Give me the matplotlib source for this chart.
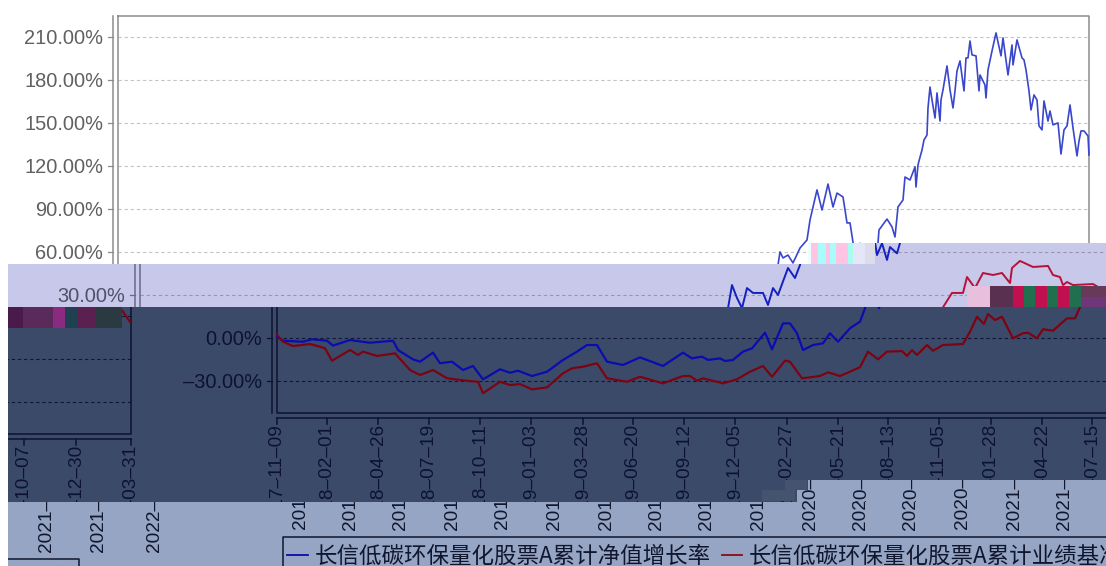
"""
Fund return chart, with the broken image bands of the original screenshot
"""
import matplotlib
matplotlib.use('Agg')
import matplotlib.pyplot as plt
from matplotlib.patches import Rectangle

blue_x = [0, 6, 26, 35, 50, 56, 73, 93, 116, 121, 136, 143, 156, 163, 175, 186, 196, 206, 223, 233, 241, 255, 270,
          286, 300, 310, 320, 330, 346, 363, 386, 406, 415, 425, 431, 443, 448, 456, 466, 475, 488, 495, 506, 513,
          520, 526, 536, 546, 553, 561, 573, 583, 588, 592, 597, 602, 607, 613, 623, 628, 633, 638, 648, 655, 660,
          662, 665, 670, 675, 682, 689, 692, 699, 704, 710, 715, 719, 725, 729, 732, 735, 737, 742, 747, 750, 757,
          760, 761, 769, 774, 777, 780, 785, 787, 792, 797, 798, 800,
          801, 804, 806, 809, 810, 812, 814, 817, 819, 822, 823, 825, 829, 832, 835, 837, 839, 842, 846, 848,
          850, 852, 854, 858, 861, 862, 867, 868, 870, 874, 878, 883, 885, 890, 894, 895, 899, 904, 906, 908,
          911, 913, 916, 919, 921, 924, 926, 930, 932, 935, 940, 943, 946, 949, 952, 955, 959, 961, 963, 966, 970, 971]
blue_y = [1, -1.9, -2.6, -0.9, -1.9, -5.3, -1.4, -3.3, -1.9, -8.4, -14.9, -16.5, -10.2, -17.6, -16.5, -22.3, -19.5,
          -28.8, -21.8, -24.2, -22.8, -26.5, -23.5, -15.3, -9.5, -4.9, -4.9, -16.5, -18.8, -13.5, -19.5, -10.2, -14.2,
          -13, -15.3, -14.2, -16, -15.3, -9.5, -7.2, 3.7, -7.9, 10.2, 10.2, 3.3, -8.4, -4.9, -3.7, 3.3, -2.6, 6.8,
          11.4, 20.7, 36.9, 27.9, 20.8, 34.8, 31.4, 31.4, 23, 34.8, 30, 48.8, 41.8, 50.9, 60, 55.8, 57.8, 52.3, 62.7,
          68.3, 82.2, 103.2, 89.2, 107.3, 91.3, 101, 98.3, 80.2, 80.2, 66.9, 57.8, 66, 54.4, 63.4, 59, 66.2, 75.3,
          82.9, 77.4, 70.4, 91.3, 96.2, 112.2, 110.1, 119.2, 105.2, 120.6,
          123.4, 131, 138, 141.5, 160.3, 174.9, 165.9, 153.3, 170.8, 151.2, 165.9, 172.9, 189.6, 172.9, 160.3, 172.2,
          186.1, 193.1, 172.2, 195.2, 195.2, 207, 197.3, 196.6, 172.2, 183.3, 176.3, 167.3, 186.8, 200, 212.6, 196.6,
          209.1, 183.3, 204.2, 190.3, 207.7, 195.2, 193.8, 186.8, 172.2, 158.9, 169.4, 165.9, 147.8, 145, 165.2, 151.2,
          158.2, 148.5, 149.9, 128.2, 145, 147.8, 162.4, 146.4, 126.9, 137.3, 144.3, 144.3, 140.8, 127.5]
red_x = [0, 6, 16, 33, 43, 48, 55, 73, 81, 86, 100, 118, 133, 143, 156, 170, 193, 201, 206, 223, 233, 243, 255, 270,
         286, 295, 306, 320, 330, 350, 363, 386, 406, 413, 420, 426, 446, 460, 473, 486, 495, 508, 513, 525, 543, 551,
         563, 583, 591, 601, 610, 625, 630, 635, 640, 650, 656, 666, 686, 693, 700, 707, 711, 718, 725, 736, 746, 751,
         760, 766, 776, 790, 798, 803, 812, 823, 827, 835, 843, 853, 862, 870, 872, 880, 893, 908, 913, 920, 923, 927,
         933, 953, 962, 970]
red_y = [2.1, -2.6, -5.6, -4.2, -6.1, -7.2, -15.8, -8.4, -11.8, -9.5, -12.5, -10.7, -22.3, -25.8, -22.3, -28.1, -30,
         -30.5, -38.5, -30.5, -32.8, -32.1, -35.8, -34.4, -24.6, -21.1, -20, -17.6, -28.1, -30.5, -27, -31.6, -26.5,
         -26.5, -29.8, -28.1, -31.6, -28.8, -23.5, -19.5, -27, -15.8, -16.5, -28.1, -26.5, -23.9, -26.5, -20.4, -9.5,
         -14.9, -9.5, -9.1, -12.5, -8.4, -11.8, -4.9, -8.9, -4.9, -4.2, 4.4, 14.8, 9.8, 16.7, 12.5, 14.8, -0.2, 3.3,
         3.7, -0.2, 6.1, 5.1, 13.7, 13.7, 21.4, 31.4, 31.4, 42.5, 34.8, 45.3, 43.9, 45.3, 38.3, 48.8, 53.7, 49.5, 50.2,
         43.9, 42.5, 36.9, 39, 36.9, 37.6, 34, 25.8]
tick_x = [0, 50, 101, 152, 203, 254, 306, 356, 407, 458, 510, 561, 611, 662, 714, 765, 815, 864, 916, 971]
tick_labels = ['2017-11-09', '2018-02-01', '2018-04-26', '2018-07-19', '2018-10-11', '2019-01-03', '2019-03-28',
               '2019-06-20', '2019-09-12', '2019-12-05', '2020-02-27', '2020-05-21', '2020-08-13', '2020-11-05',
               '2021-01-28', '2021-04-22', '2021-07-15', '2021-10-07', '2021-12-30', '2022-03-31']
y_ticks = [-30, 0, 30, 60, 90, 120, 150, 180, 210]
y_labels = ['-30.00%', '0.00%', '30.00%', '60.00%', '90.00%', '120.00%', '150.00%', '180.00%', '210.00%']
legend_labels = ['长信低碳环保量化股票A累计净值增长率', '长信低碳环保量化股票A累计业绩基准增长率']

W, H = 1106, 566
X0 = 277  # pixel of the first session, in the dark band
FONT = ['Liberation Sans', 'DejaVu Sans']
CJK = ['Noto Sans CJK SC', 'Liberation Sans']

white = dict(bg='#ffffff', text='#606060', spine='#8c8c8c', grid='#c4c4c4', blue='#3a46cc', red='#c02030', lw=1.2)
lilac = dict(bg='#c8c8ea', text='#505068', spine='#6a6a88', grid='#9696b0', blue='#1420c0', red='#b81038', lw=1.4)
dark = dict(bg='#3c4a6a', text='#0c1230', spine='#0c1230', grid='#10163a', blue='#0a0cb0', red='#7c0412', lw=1.6)
light = dict(bg='#95a5c3', text='#10162e', spine='#10162e', grid='#10162e', blue='#0a0cb0', red='#8c0a1a', lw=1.4)


def val(py):
    """Pixel row of the chart to percent"""
    return (338 - py) * 30 / 43.05


def long_dash(s):
    # the screenshot font has a hyphen as wide as a digit
    return s.replace('-', '\u2013')


def draw_chart(ax, c):
    """Whole chart in one band, the axes clips it to the band"""
    for t, label in zip(y_ticks, y_labels):
        ax.plot([0, 971], [t, t], color=c['grid'], lw=0.8, ls=(0, (3, 2.5)), zorder=1)
        ax.plot([-10, -5], [t, t], color=c['spine'], lw=0.9, zorder=2)
        ax.text(-15, t - 1.2, long_dash(label), ha='right', va='center', fontsize=14.4,
                family=FONT, color=c['text'], clip_on=True)
    ax.plot([0, 0, 971, 971, 0], [val(16), val(413), val(413), val(16), val(16)], color=c['spine'], lw=1.1, zorder=2)
    ax.plot([-5, -5], [val(16), val(413)], color=c['spine'], lw=1.1, zorder=2)
    ax.plot([0, 971], [val(418), val(418)], color=c['spine'], lw=1.1, zorder=2)
    ax.plot(blue_x, blue_y, color=c['blue'], lw=c['lw'], zorder=3)
    ax.plot(red_x, red_y, color=c['red'], lw=c['lw'], zorder=3)
    for pos, label in zip(tick_x, tick_labels):
        ax.plot([pos, pos], [val(418), val(424)], color=c['spine'], lw=1.1, zorder=2)
        ax.text(pos, val(424), long_dash(label), rotation=90, ha='center', va='top', fontsize=13.7,
                family=FONT, color=c['text'], clip_on=True)
    # legend box runs out of the picture
    ax.plot([-17, -17, 896, 896], [val(580), val(537), val(537), val(580)], color=c['spine'], lw=1.1, zorder=2)
    ax.plot([-13, 8], [val(555), val(555)], color=c['blue'], lw=1.3, zorder=3)
    ax.text(15, val(556), legend_labels[0], ha='left', va='center', fontsize=16.2, family=CJK,
            color=c['text'], clip_on=True)
    ax.plot([422, 442], [val(555), val(555)], color=c['red'], lw=1.3, zorder=3)
    ax.text(449, val(556), legend_labels[1], ha='left', va='center', fontsize=16.2, family=CJK,
            color=c['text'], clip_on=True)


def add_band(fig, x0, y0, x1, y1, c, sx=0, sy=0):
    """One band of the picture, the chart moved by sx, sy pixels"""
    ax = fig.add_axes([x0 / W, 1 - y1 / H, (x1 - x0) / W, (y1 - y0) / H], facecolor=c['bg'])
    draw_chart(ax, c)
    ax.set_xlim(x0 - X0 - sx, x1 - X0 - sx)
    ax.set_ylim(val(y1 - sy), val(y0 - sy))
    ax.set_xticks([])
    ax.set_yticks([])
    for spine in ax.spines.values():
        spine.set_visible(False)
    return ax


def add_blocks(ax, blocks, y0, y1):
    for x0, x1, color in blocks:
        ax.add_patch(Rectangle((x0, y0), x1 - x0, y1 - y0, facecolor=color, edgecolor='none', zorder=5))


fig = plt.figure(figsize=(W / 100, H / 100), dpi=100, facecolor='white')

add_band(fig, 0, 0, W, 264, white, sx=-159)
add_band(fig, 808, 243, W, 264, lilac, sx=-137)
add_band(fig, 8, 264, W, 307, lilac, sx=-137)
add_band(fig, 8, 307, W, 480, dark)
add_band(fig, 8, 480, 808, 502, dark)
add_band(fig, 8, 307, 170, 502, dark, sx=-1117, sy=21)
add_band(fig, 808, 480, W, 502, light, sx=23)
add_band(fig, 797, 490, 808, 502, light, sx=23)
add_band(fig, 8, 502, W, H, light, sx=23)
add_band(fig, 8, 502, 270, H, light, sx=-1094, sy=22)

# broken blocks of the screenshot, on top of the bands
over = fig.add_axes([0, 0, 1, 1], facecolor='none')
over.set_xlim(0, W)
over.set_ylim(H, 0)
over.axis('off')
add_blocks(over, [(808, 811, '#eaffff'), (811, 818, '#ffc4e4'), (818, 826, '#a8fcfc'), (826, 830, '#ffc4e4'),
                  (830, 836, '#a8fcfc'), (836, 848, '#ffc4e4'), (848, 853, '#a8fcf0'), (853, 865, '#e6e6fa'),
                  (865, 875, '#dcdcea')], 243, 264)
add_blocks(over, [(967, 990, '#e6c0dc'), (990, 1013, '#5a3050'), (1013, 1024, '#c01050'), (1024, 1035, '#207050'),
                  (1035, 1047, '#c01050'), (1047, 1058, '#207050'), (1058, 1069, '#c01050'), (1069, 1081, '#207050'),
                  (1081, 1106, '#663a58')], 286, 307)
add_blocks(over, [(1081, 1106, '#70367a')], 297, 307)
add_blocks(over, [(8, 23, '#4a1a4a'), (23, 53, '#5a2a5a'), (53, 65, '#8a2a80'), (65, 78, '#1f4050'),
                  (78, 95, '#5a2050'), (95, 122, '#2a3a40')], 307, 328)
add_blocks(over, [(785, 807, '#46536f')], 480, 490)
add_blocks(over, [(762, 795, '#46536f')], 490, 501)

plt.savefig('out.png', dpi=100)
